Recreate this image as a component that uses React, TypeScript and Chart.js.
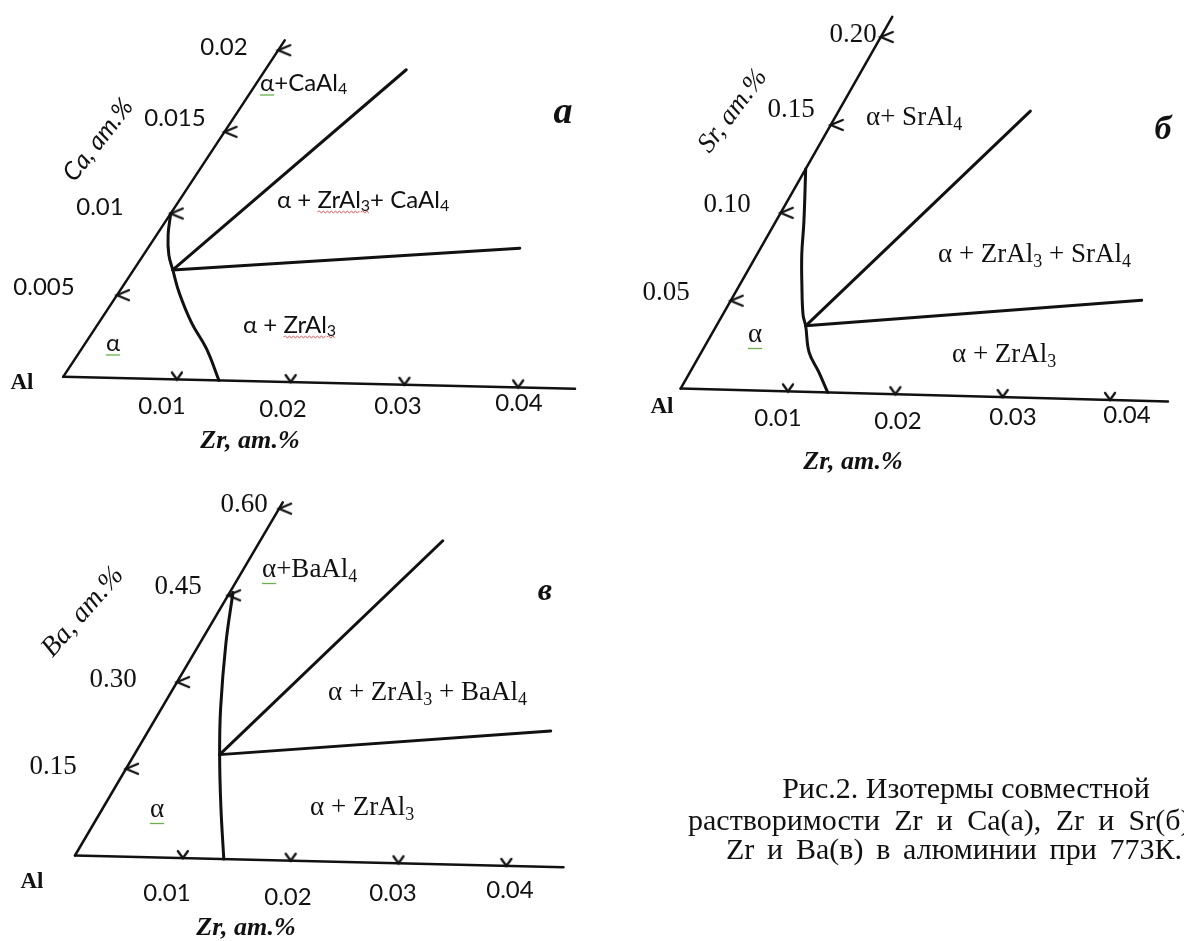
import React, { useEffect, useRef } from "react";
import { Chart, registerables } from "chart.js";

Chart.register(...registerables);

// ===================== DATA (at.%) =====================
// Zr axis, shared by the three isotherms
const zrTicks = [0.01, 0.02, 0.03, 0.04];
const zrTickLabels = ["0.01", "0.02", "0.03", "0.04"];

// (а) Al–Zr–Ca
const caTicks = [0.005, 0.01, 0.015, 0.02];
const caTickLabels = ["0.005", "0.01", "0.015", "0.02"];
const caAxisEnd = [0.045, 0.0206]; // [Zr end, Ca end]
const caSolvusZr = [0, 0.001, 0.0022, 0.0034, 0.0053, 0.0081, 0.0108, 0.0137];
const caSolvusCa = [0.01, 0.0087, 0.0075, 0.0066, 0.0052, 0.0034, 0.0019, 0];
const caTieUpperZr = [0.0034, 0.0122];
const caTieUpperCa = [0.0066, 0.019];
const caTieLowerZr = [0.0034, 0.0322];
const caTieLowerCa = [0.0066, 0.0084];

// (б) Al–Zr–Sr
const srTicks = [0.05, 0.1, 0.15, 0.2];
const srTickLabels = ["0.05", "0.10", "0.15", "0.20"];
const srAxisEnd = [0.0454, 0.2115];
const srSolvusZr = [0, 0.0026, 0.0041, 0.0058, 0.0074, 0.0082, 0.0099, 0.0118, 0.0137];
const srSolvusSr = [0.125, 0.0953, 0.0771, 0.059, 0.043, 0.037, 0.0222, 0.0114, 0];
const srTieUpperZr = [0.0082, 0.0176];
const srTieUpperSr = [0.037, 0.1607];
const srTieLowerZr = [0.0082, 0.0377];
const srTieLowerSr = [0.037, 0.0563];

// (в) Al–Zr–Ba
const baTicks = [0.15, 0.3, 0.45, 0.6];
const baTickLabels = ["0.15", "0.30", "0.45", "0.60"];
const baAxisEnd = [0.0453, 0.611];
const baSolvusZr = [0.0003, 0.0024, 0.0054, 0.0078, 0.0107, 0.0138];
const baSolvusBa = [0.455, 0.3676, 0.257, 0.178, 0.0897, 0];
const baTieUpperZr = [0.0078, 0.0167];
const baTieUpperBa = [0.178, 0.552];
const baTieLowerZr = [0.0078, 0.0368];
const baTieLowerBa = [0.178, 0.232];

// ===================== LAYOUT =====================
type Geo = { ox: number; oy: number; zrStep: number; zrVec: [number, number]; elStep: number; elVec: [number, number] };
const geoA: Geo = { ox: 55, oy: 375, zrStep: 0.01, zrVec: [115.5, 2.7], elStep: 0.01, elVec: [109.2, -166.5] };
const geoB: Geo = { ox: 682, oy: 387, zrStep: 0.01, zrVec: [109, 2.87], elStep: 0.05, elVec: [50.8, -89.6] };
const geoC: Geo = { ox: 67, oy: 863, zrStep: 0.01, zrVec: [109.5, 2.65], elStep: 0.15, elVec: [51.8, -88.4] };

const SANS = "Lato, 'Open Sans', sans-serif";
const SERIF = "'Liberation Serif', 'Times New Roman', serif";

type Lbl = { s: string; x: number; y: number; size: number; fam: string; style?: string; align?: CanvasTextAlign; rot?: number; w?: number };

const labels: Lbl[] = [
  // ---- panel а
  { s: caTickLabels[3], x: 224, y: 47, size: 24, fam: SANS, align: "center" },
  { s: caTickLabels[2], x: 175, y: 118, size: 24, fam: SANS, align: "center" },
  { s: caTickLabels[1], x: 100, y: 207, size: 24, fam: SANS, align: "center" },
  { s: caTickLabels[0], x: 44, y: 287, size: 24, fam: SANS, align: "center" },
  { s: zrTickLabels[0], x: 162, y: 406, size: 24, fam: SANS, align: "center" },
  { s: zrTickLabels[1], x: 283, y: 409, size: 24, fam: SANS, align: "center" },
  { s: zrTickLabels[2], x: 398, y: 406, size: 24, fam: SANS, align: "center" },
  { s: zrTickLabels[3], x: 519, y: 403, size: 24, fam: SANS, align: "center" },
  { s: "Al", x: 22, y: 383, size: 23, fam: SERIF, style: "bold", align: "center" },
  { s: "Zr, ат.%", x: 250, y: 441, size: 26, fam: SERIF, style: "italic bold", align: "center" },
  { s: "Ca, ат.%", x: 98, y: 140, size: 25, fam: SANS, style: "italic", align: "center", rot: -52 },
  { s: "{g:α}+CaAl_4", x: 260, y: 83, size: 24, fam: SANS },
  { s: "α + {r:ZrAl_3}+ CaAl_4", x: 277, y: 200, size: 24, fam: SANS },
  { s: "α + {r:ZrAl_3}", x: 243, y: 325, size: 24, fam: SANS },
  { s: "{g:α}", x: 113, y: 343, size: 24, fam: SANS, align: "center" },
  { s: "а", x: 563, y: 113, size: 38, fam: SERIF, style: "italic bold", align: "center" },
  // ---- panel б
  { s: srTickLabels[3], x: 853, y: 35, size: 27, fam: SERIF, align: "center" },
  { s: srTickLabels[2], x: 791, y: 110, size: 27, fam: SERIF, align: "center" },
  { s: srTickLabels[1], x: 727, y: 205, size: 27, fam: SERIF, align: "center" },
  { s: srTickLabels[0], x: 666, y: 293, size: 27, fam: SERIF, align: "center" },
  { s: zrTickLabels[0], x: 778, y: 418, size: 24, fam: SANS, align: "center" },
  { s: zrTickLabels[1], x: 898, y: 421, size: 24, fam: SANS, align: "center" },
  { s: zrTickLabels[2], x: 1013, y: 417, size: 24, fam: SANS, align: "center" },
  { s: zrTickLabels[3], x: 1127, y: 415, size: 24, fam: SANS, align: "center" },
  { s: "Al", x: 662, y: 407, size: 23, fam: SERIF, style: "bold", align: "center" },
  { s: "Zr, ат.%", x: 853, y: 462, size: 26, fam: SERIF, style: "italic bold", align: "center" },
  { s: "Sr, ат.%", x: 733, y: 111, size: 27, fam: SERIF, style: "italic", align: "center", rot: -53 },
  { s: "α+ SrAl_4", x: 866, y: 118, size: 27, fam: SERIF },
  { s: "α + ZrAl_3 + SrAl_4", x: 938, y: 255, size: 27, fam: SERIF },
  { s: "α + ZrAl_3", x: 952, y: 355, size: 27, fam: SERIF },
  { s: "{g:α}", x: 755, y: 335, size: 27, fam: SERIF, align: "center" },
  { s: "б", x: 1163, y: 130, size: 34, fam: SERIF, style: "italic bold", align: "center" },
  // ---- panel в
  { s: baTickLabels[3], x: 244, y: 505, size: 27, fam: SERIF, align: "center" },
  { s: baTickLabels[2], x: 178, y: 587, size: 27, fam: SERIF, align: "center" },
  { s: baTickLabels[1], x: 113, y: 680, size: 27, fam: SERIF, align: "center" },
  { s: baTickLabels[0], x: 53, y: 767, size: 27, fam: SERIF, align: "center" },
  { s: zrTickLabels[0], x: 167, y: 893, size: 24, fam: SANS, align: "center" },
  { s: zrTickLabels[1], x: 288, y: 897, size: 24, fam: SANS, align: "center" },
  { s: zrTickLabels[2], x: 393, y: 893, size: 24, fam: SANS, align: "center" },
  { s: zrTickLabels[3], x: 510, y: 890, size: 24, fam: SANS, align: "center" },
  { s: "Al", x: 32, y: 882, size: 23, fam: SERIF, style: "bold", align: "center" },
  { s: "Zr, ат.%", x: 246, y: 928, size: 26, fam: SERIF, style: "italic bold", align: "center" },
  { s: "Ba, ат.%", x: 83, y: 612, size: 28, fam: SERIF, style: "italic", align: "center", rot: -49 },
  { s: "{g:α}+BaAl_4", x: 262, y: 570, size: 27, fam: SERIF },
  { s: "α + ZrAl_3 + BaAl_4", x: 328, y: 693, size: 27, fam: SERIF },
  { s: "α + ZrAl_3", x: 310, y: 808, size: 27, fam: SERIF },
  { s: "{g:α}", x: 157, y: 810, size: 27, fam: SERIF, align: "center" },
  { s: "в", x: 545, y: 592, size: 32, fam: SERIF, style: "italic bold", align: "center" },
  // ---- caption
  { s: "Рис.2. Изотермы совместной", x: 966, y: 790, size: 30, fam: SERIF, align: "center" },
  { s: "растворимости Zr и Ca(а), Zr и Sr(б),", x: 688, y: 822, size: 30, fam: SERIF, w: 510 },
  { s: "Zr и Ba(в) в алюминии при 773К.", x: 726, y: 851, size: 30, fam: SERIF, w: 456 },
];

// ===================== HELPERS =====================
type Part = { t: string; sub?: boolean; ul?: string };
function parse(s: string): Part[] {
  const parts: Part[] = [];
  let ul: string | undefined;
  let buf = "";
  const flush = () => {
    if (buf) { parts.push({ t: buf, ul }); buf = ""; }
  };
  for (let i = 0; i < s.length; i++) {
    const c = s[i];
    if (c === "{") { flush(); ul = s[i + 1]; i += 2; continue; }
    if (c === "}") { flush(); ul = undefined; continue; }
    if (c === "_") { flush(); parts.push({ t: s[i + 1], sub: true, ul }); i++; continue; }
    buf += c;
  }
  flush();
  return parts;
}

function drawJustified(ctx: CanvasRenderingContext2D, l: Lbl) {
  ctx.save();
  ctx.font = `${l.style ? l.style + " " : ""}${l.size}px ${l.fam}`;
  ctx.textBaseline = "middle";
  ctx.textAlign = "left";
  ctx.fillStyle = "#111";
  const words = l.s.split(" ");
  const natural = ctx.measureText(l.s).width;
  const extra = words.length > 1 ? Math.max(0, (l.w! - natural) / (words.length - 1)) : 0;
  const sp = ctx.measureText(" ").width;
  let x = l.x;
  words.forEach((w) => {
    ctx.fillText(w, x, l.y);
    x += ctx.measureText(w).width + sp + extra;
  });
  ctx.restore();
}

function drawLabel(ctx: CanvasRenderingContext2D, l: Lbl) {
  if (l.w) { drawJustified(ctx, l); return; }
  const parts = parse(l.s);
  const style = l.style ? l.style + " " : "";
  const fontFor = (p: Part) => `${style}${p.sub ? Math.round(l.size * 0.68) : l.size}px ${l.fam}`;
  const widths = parts.map((p) => { ctx.font = fontFor(p); return ctx.measureText(p.t).width; });
  const total = widths.reduce((a, b) => a + b, 0);
  ctx.save();
  ctx.translate(l.x, l.y);
  if (l.rot) ctx.rotate((l.rot * Math.PI) / 180);
  let x = l.align === "center" ? -total / 2 : l.align === "right" ? -total : 0;
  ctx.textBaseline = "middle";
  ctx.textAlign = "left";
  ctx.fillStyle = "#111";
  parts.forEach((p, i) => {
    ctx.font = fontFor(p);
    const dy = p.sub ? l.size * 0.26 : 0;
    ctx.fillText(p.t, x, dy);
    if (p.ul) {
      const uy = l.size * 0.5;
      ctx.beginPath();
      if (p.ul === "g") {
        ctx.strokeStyle = "#6ab04c";
        ctx.lineWidth = 1.3;
        ctx.moveTo(x, uy);
        ctx.lineTo(x + widths[i], uy);
      } else {
        ctx.strokeStyle = "#e06060";
        ctx.lineWidth = 1;
        let up = true;
        ctx.moveTo(x, uy);
        for (let xx = x + 2; xx <= x + widths[i]; xx += 2) {
          ctx.lineTo(xx, uy + (up ? -1.2 : 1.2));
          up = !up;
        }
      }
      ctx.stroke();
    }
    x += widths[i];
  });
  ctx.restore();
}

function toPx(g: Geo, zr: number[], el: number[]) {
  return zr.map((z, i) => ({
    x: g.ox + (z / g.zrStep) * g.zrVec[0] + (el[i] / g.elStep) * g.elVec[0],
    y: g.oy + (z / g.zrStep) * g.zrVec[1] + (el[i] / g.elStep) * g.elVec[1],
  }));
}

function makeMarker(kind: "v" | "<"): HTMLCanvasElement {
  const c = document.createElement("canvas");
  const ctx = c.getContext("2d")!;
  if (kind === "v") {
    c.width = 16; c.height = 18;
    ctx.strokeStyle = "#111"; ctx.lineWidth = 2.3; ctx.lineCap = "round";
    ctx.beginPath(); ctx.moveTo(3, 2); ctx.lineTo(8, 9); ctx.lineTo(13, 2); ctx.stroke();
  } else {
    c.width = 32; c.height = 16;
    ctx.strokeStyle = "#111"; ctx.lineWidth = 2.3; ctx.lineCap = "round";
    ctx.beginPath(); ctx.moveTo(28, 3); ctx.lineTo(16, 8); ctx.lineTo(28, 13); ctx.stroke();
  }
  return c;
}

function panelDatasets(
  g: Geo, axisEnd: number[], elTicks: number[],
  solZr: number[], solEl: number[],
  upZr: number[], upEl: number[], loZr: number[], loEl: number[],
  vImg: HTMLCanvasElement, ltImg: HTMLCanvasElement
) {
  const line = { showLine: true, pointRadius: 0, borderColor: "#111", backgroundColor: "#111", fill: false, borderCapStyle: "round" };
  return [
    { ...line, data: toPx(g, [0, axisEnd[0]], [0, 0]), borderWidth: 2.5 },
    { ...line, data: toPx(g, [0, 0], [0, axisEnd[1]]), borderWidth: 2.5 },
    { ...line, data: toPx(g, solZr, solEl), borderWidth: 3, tension: 0.4 },
    { ...line, data: toPx(g, upZr, upEl), borderWidth: 3 },
    { ...line, data: toPx(g, loZr, loEl), borderWidth: 3 },
    { showLine: false, data: toPx(g, zrTicks, zrTicks.map(() => 0)), pointStyle: vImg, pointRadius: 8 },
    { showLine: false, data: toPx(g, elTicks.map(() => 0), elTicks), pointStyle: ltImg, pointRadius: 8 },
  ];
}

// ===================== COMPONENT =====================
export default function App() {
  const ref = useRef<HTMLCanvasElement | null>(null);
  useEffect(() => {
    document.body.style.margin = "0";
    const vImg = makeMarker("v");
    const ltImg = makeMarker("<");
    const datasets = [
      ...panelDatasets(geoA, caAxisEnd, caTicks, caSolvusZr, caSolvusCa, caTieUpperZr, caTieUpperCa, caTieLowerZr, caTieLowerCa, vImg, ltImg),
      ...panelDatasets(geoB, srAxisEnd, srTicks, srSolvusZr, srSolvusSr, srTieUpperZr, srTieUpperSr, srTieLowerZr, srTieLowerSr, vImg, ltImg),
      ...panelDatasets(geoC, baAxisEnd, baTicks, baSolvusZr, baSolvusBa, baTieUpperZr, baTieUpperBa, baTieLowerZr, baTieLowerBa, vImg, ltImg),
    ];
    const textPlugin = {
      id: "textLabels",
      afterDraw(chart: Chart) {
        const ctx = chart.ctx;
        labels.forEach((l) => drawLabel(ctx, l));
      },
    };
    const chart = new Chart(ref.current!, {
      type: "scatter",
      data: { datasets: datasets as any },
      options: {
        animation: false,
        responsive: false,
        devicePixelRatio: 1,
        layout: { padding: 0 },
        plugins: { legend: { display: false }, tooltip: { enabled: false } },
        events: [],
        scales: {
          x: { type: "linear", min: 0, max: 1184, display: false },
          y: { type: "linear", min: 0, max: 941, reverse: true, display: false },
        },
      },
      plugins: [textPlugin],
    });
    return () => chart.destroy();
  }, []);
  return (
    <div style={{ position: "absolute", left: 0, top: 0, width: 1184, height: 941, background: "#fff" }}>
      <canvas ref={ref} width={1184} height={941} style={{ display: "block" }} />
    </div>
  );
}
